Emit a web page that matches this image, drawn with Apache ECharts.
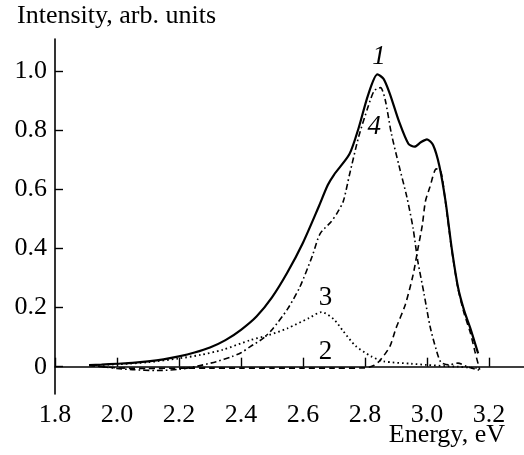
<!DOCTYPE html>
<html><head><meta charset="utf-8">
<script src="https://cdn.jsdelivr.net/npm/echarts@6/dist/echarts.min.js"></script>
<style>html,body{margin:0;padding:0;background:#fff}#c{width:524px;height:455px}</style>
</head><body><div id="c"></div>
<script>
// Curve 1 (solid): total spectrum
const curve1 = [[1.91,0.005],[1.95,0.007],[2.00,0.010],[2.05,0.013],[2.10,0.018],[2.15,0.025],[2.20,0.035],[2.25,0.048],[2.30,0.065],[2.35,0.090],[2.40,0.125],[2.45,0.170],[2.50,0.235],[2.55,0.320],[2.60,0.420],[2.65,0.540],[2.68,0.615],[2.70,0.650],[2.75,0.720],[2.78,0.810],[2.81,0.920],[2.84,0.990],[2.86,0.975],[2.88,0.925],[2.91,0.830],[2.94,0.755],[2.96,0.745],[2.98,0.760],[3.00,0.770],[3.02,0.750],[3.04,0.680],[3.06,0.560],[3.08,0.400],[3.10,0.270],[3.12,0.190],[3.14,0.130],[3.165,0.045]];
// Curve 2 (dashed)
const curve2 = [[1.91,0.004],[2.00,-0.004],[2.10,-0.006],[2.20,-0.005],[2.30,-0.005],[2.40,-0.005],[2.50,-0.005],[2.60,-0.005],[2.70,-0.005],[2.80,-0.004],[2.83,0.005],[2.85,0.023],[2.88,0.068],[2.90,0.130],[2.93,0.210],[2.955,0.310],[2.97,0.395],[2.985,0.480],[2.995,0.560],[3.01,0.610],[3.03,0.670],[3.045,0.660],[3.06,0.555],[3.08,0.395],[3.10,0.265],[3.12,0.180],[3.14,0.115],[3.155,0.050],[3.17,-0.010]];
// Curve 3 (dotted)
const curve3 = [[1.91,0.005],[2.00,0.008],[2.10,0.015],[2.20,0.028],[2.27,0.040],[2.34,0.057],[2.43,0.090],[2.49,0.107],[2.55,0.130],[2.62,0.165],[2.66,0.185],[2.70,0.160],[2.73,0.120],[2.77,0.070],[2.82,0.035],[2.86,0.018],[2.95,0.010],[3.00,0.006],[3.06,0.002],[3.10,0.000],[3.16,-0.005]];
// Curve 4 (dash-dot)
const curve4 = [[1.91,0.005],[2.00,-0.006],[2.05,-0.010],[2.13,-0.013],[2.20,-0.009],[2.26,0.002],[2.32,0.017],[2.37,0.034],[2.40,0.047],[2.43,0.068],[2.47,0.095],[2.50,0.125],[2.55,0.195],[2.59,0.270],[2.63,0.375],[2.655,0.450],[2.69,0.490],[2.71,0.520],[2.73,0.560],[2.75,0.650],[2.78,0.780],[2.81,0.880],[2.83,0.935],[2.85,0.945],[2.865,0.905],[2.885,0.790],[2.91,0.680],[2.935,0.575],[2.955,0.470],[2.97,0.360],[2.99,0.250],[3.01,0.136],[3.03,0.057],[3.045,0.015],[3.07,0.006],[3.10,0.012],[3.13,0.000],[3.17,-0.012]];
const xTicks = [1.8,2.0,2.2,2.4,2.6,2.8,3.0,3.2];
const yTicks = [0,0.2,0.4,0.6,0.8,1.0];
const curveLabels = [
  {name:'1', coord:[2.845,1.05], italic:true},
  {name:'4', coord:[2.83,0.812], italic:true},
  {name:'3', coord:[2.673,0.233], italic:false},
  {name:'2', coord:[2.673,0.051], italic:false}
];
const FONT = 'Liberation Serif';
const chart = echarts.init(document.getElementById('c'), null, {renderer:'canvas'});
const mk = (data, type, width) => ({
  type:'line', data, showSymbol:false, smooth:0.25, animation:false,
  lineStyle:{color:'#000', width, type}
});
const s4 = mk(curve4, [6,3,1.6,3], 1.6);
s4.markPoint = {
  symbol:'circle', symbolSize:0, animation:false,
  data: curveLabels.map(l => ({name:l.name, coord:l.coord,
    label:{show:true, position:'inside', formatter:l.name, color:'#000',
      fontFamily:FONT, fontSize:27, fontStyle:l.italic?'italic':'normal'}}))
};
chart.setOption({
  animation:false,
  grid:{left:55, right:0, top:39, bottom:61, containLabel:false},
  xAxis:{type:'value', min:1.8, max:3.313,
    axisLine:{show:true, lineStyle:{color:'#000', width:1.6}},
    axisTick:{show:true, inside:true, length:9, customValues:xTicks, lineStyle:{color:'#000', width:1.4}},
    axisLabel:{show:true, customValues:xTicks, margin:8, color:'#000', fontFamily:FONT, fontSize:26,
      formatter:v => v.toFixed(1)},
    splitLine:{show:false}},
  yAxis:{type:'value', min:-0.0925, max:1.1098,
    axisLine:{show:true, lineStyle:{color:'#000', width:1.6}},
    axisTick:{show:true, inside:true, length:8, customValues:yTicks, lineStyle:{color:'#000', width:1.4}},
    axisLabel:{show:true, customValues:yTicks, margin:8, color:'#000', fontFamily:FONT, fontSize:26,
      formatter:v => (Math.abs(v)<1e-9 ? '0' : v.toFixed(1))},
    splitLine:{show:false}},
  graphic:[
    {type:'text', left:17, top:3, style:{text:'Intensity, arb. units', font:'26px "Liberation Serif"', fill:'#000'}},
    {type:'text', right:19, top:422, style:{text:'Energy, eV', font:'26px "Liberation Serif"', fill:'#000'}}
  ],
  series:[
    mk(curve2, [6,4], 1.6),
    mk(curve3, [1.6,3], 1.8),
    s4,
    mk(curve1, 'solid', 2.2)
  ]
});
</script></body></html>
